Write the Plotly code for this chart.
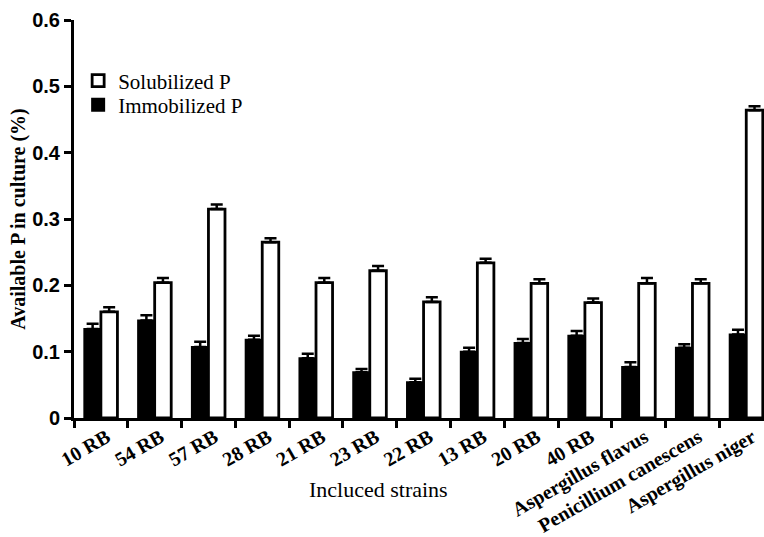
import plotly.graph_objects as go

categories = ["10 RB", "54 RB", "57 RB", "28 RB", "21 RB", "23 RB", "22 RB",
              "13 RB", "20 RB", "40 RB", "Aspergillus flavus",
              "Penicillium canescens", "Aspergillus niger"]
immobilized = [0.134, 0.147, 0.107, 0.118, 0.090, 0.069, 0.054,
               0.100, 0.113, 0.124, 0.077, 0.106, 0.126]
immobilized_err = [0.008, 0.008, 0.008, 0.006, 0.007, 0.005, 0.005,
                   0.006, 0.006, 0.007, 0.007, 0.005, 0.007]
solubilized = [0.160, 0.204, 0.315, 0.265, 0.204, 0.222, 0.175,
               0.234, 0.203, 0.174, 0.203, 0.203, 0.464]
solubilized_err = [0.007, 0.007, 0.007, 0.006, 0.007, 0.007, 0.007,
                   0.006, 0.006, 0.006, 0.008, 0.006, 0.006]
y_ticks = [0, 0.1, 0.2, 0.3, 0.4, 0.5, 0.6]
y_tick_labels = ["0", "0.1", "0.2", "0.3", "0.4", "0.5", "0.6"]

SERIF = "Liberation Serif, Times New Roman, serif"
SANS = "Liberation Sans, Arial, sans-serif"

fig = go.Figure()
fig.add_trace(go.Bar(
    name="Immobilized P", x=categories, y=immobilized, legend="legend2",
    marker=dict(color="black", line=dict(color="black", width=2)),
    error_y=dict(type="data", array=immobilized_err, symmetric=False,
                 arrayminus=[0] * len(immobilized_err),
                 color="black", thickness=2.5, width=6),
))
fig.add_trace(go.Bar(
    name="Solubilized P", x=categories, y=solubilized, legend="legend",
    marker=dict(color="white", line=dict(color="black", width=2.8)),
    error_y=dict(type="data", array=solubilized_err, symmetric=False,
                 arrayminus=[0] * len(solubilized_err),
                 color="black", thickness=2.5, width=6),
))

legend_style = dict(xanchor="left", yanchor="middle", bgcolor="rgba(0,0,0,0)",
                    font=dict(family=SERIF, size=21, color="black"), itemwidth=30)

fig.update_layout(
    width=764, height=537,
    margin=dict(l=74, r=0, t=20, b=119),
    paper_bgcolor="white", plot_bgcolor="white",
    barmode="group", bargap=0.385, bargroupgap=0,
    showlegend=True,
    legend=dict(x=0.006, y=(418 - 81) / 398, **legend_style),
    legend2=dict(x=0.006, y=(418 - 105) / 398, **legend_style),
    xaxis=dict(
        type="category", range=[-0.5, 12.33], automargin=False,
        showline=True, linecolor="black", linewidth=3,
        ticks="outside", tickson="boundaries", ticklen=7, tickwidth=2.5, tickcolor="black",
        tickangle=-30, tickfont=dict(family=SERIF, size=20, color="black", weight="bold"),
        ticklabelshift=6, ticklabelstandoff=-3,
        showgrid=False, zeroline=False,
    ),
    yaxis=dict(
        range=[0, 0.6], tickvals=y_ticks, ticktext=y_tick_labels, automargin=False,
        showline=True, linecolor="black", linewidth=3,
        ticks="outside", ticklen=7, tickwidth=2.5, tickcolor="black",
        tickfont=dict(family=SANS, size=20, color="black", weight="bold"),
        showgrid=False, zeroline=False,
        title=dict(text="Available P in culture (%)", standoff=2,
                   font=dict(family=SERIF, size=20, color="black", weight="bold")),
    ),
    annotations=[dict(
        text="Incluced strains", xref="paper", yref="paper",
        x=(378 - 74) / 690, y=(418 - 490) / 398, xanchor="center", yanchor="middle",
        showarrow=False, font=dict(family=SERIF, size=22, color="black"),
    )],
)

fig.write_html("out.html", config={"displayModeBar": False},
               post_script="document.body.style.margin='0';document.body.style.overflow='hidden';")
